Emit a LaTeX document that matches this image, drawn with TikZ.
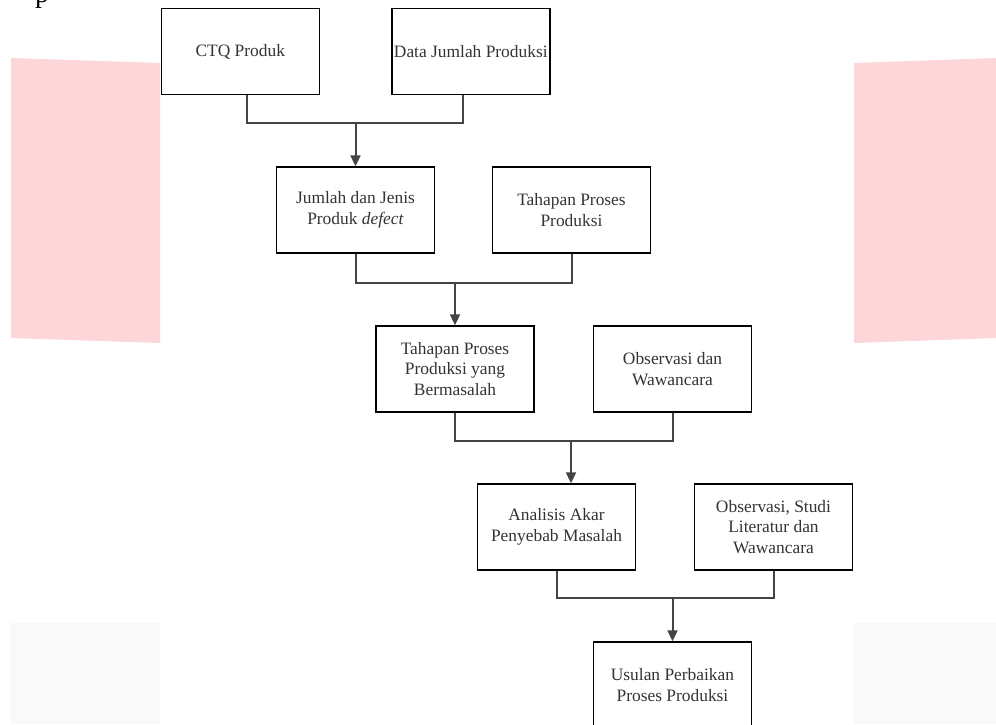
\documentclass[tikz,border=0pt]{standalone}
\usepackage{fontspec}
\setmainfont{Liberation Serif}
\usetikzlibrary{arrows.meta}
\definecolor{pinkbg}{RGB}{253,214,218}
\definecolor{graybg}{RGB}{249,249,249}
\definecolor{txt}{RGB}{51,51,51}
\definecolor{conncol}{RGB}{68,68,68}
\begin{document}
\begin{tikzpicture}[x=1pt,y=-1pt,
  box/.style={draw=black, line width=1.4pt, minimum width=158pt, minimum height=86pt,
    inner sep=2pt, align=center, font=\fontsize{17.4}{20.5}\selectfont, text=txt},
  link/.style={draw=conncol, line width=2pt},
  arr/.style={link, -{Triangle[length=11pt,width=10pt]}}]
\useasboundingbox (0,0) rectangle (996,724);
% background shapes
\fill[pinkbg] (11,58) -- (160,63) -- (160,343) -- (11,338) -- cycle;
\fill[pinkbg] (854,63) -- (996,58) -- (996,338) -- (854,343) -- cycle;
\fill[graybg] (10,623) rectangle (160,724);
\fill[graybg] (854,623) rectangle (996,724);
% cut-off text at top
\node[font=\fontsize{28}{30}\selectfont, anchor=base west, inner sep=0pt, text=black] (pcut) at (35,2.5) {p};
% boxes
\node[box] (ctq)  at (240.25,51.5) {CTQ Produk};
\node[box] (data) at (470.8,51.5) {Data Jumlah Produksi};
\node[box] (jml)  at (355.5,210) {Jumlah dan Jenis\\Produk \textit{defect}};
\node[box] (thp)  at (571.5,210) {Tahapan Proses\\Produksi};
\node[box] (bms)  at (455,369) {Tahapan Proses\\Produksi yang\\Bermasalah};
\node[box] (obs)  at (672.5,369) {Observasi dan\\Wawancara};
\node[box] (ana)  at (556.5,527) {Analisis Akar\\Penyebab Masalah};
\node[box] (obs2) at (773.5,527) {Observasi, Studi\\Literatur dan\\Wawancara};
\node[box] (usl)  at (672.5,685) {Usulan Perbaikan\\Proses Produksi};
% connectors
\coordinate (j1) at (355.5,123);
\draw[link] ([xshift=7pt]ctq.south) |- (j1) -| ([xshift=-8pt]data.south);
\draw[arr] (j1) -- (jml.north);
\coordinate (j2) at (455,283);
\draw[link] (jml.south) |- (j2) -| (thp.south);
\draw[arr] (j2) -- (bms.north);
\coordinate (j3) at (571,441);
\draw[link] (bms.south) |- (j3) -| (obs.south);
\draw[arr] (j3) -- (ana.north -| j3);
\coordinate (j4) at (672.5,598);
\draw[link] (ana.south) |- (j4) -| (obs2.south);
\draw[arr] (j4) -- (usl.north);
\end{tikzpicture}
\end{document}
